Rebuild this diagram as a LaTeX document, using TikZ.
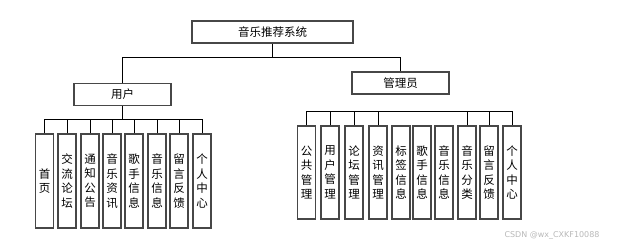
\documentclass[tikz,border=0pt]{standalone}
\usepackage{fontspec}
\newfontfamily\cjk{Noto Sans CJK SC}
\newfontfamily\wmfont{DejaVu Sans}
\begin{document}
\begin{tikzpicture}[x=1pt,y=-1pt,
  box/.style={draw=black!72,line width=1.1pt,fill=white,inner sep=0pt,
    font=\cjk\fontsize{11.5}{14.5}\selectfont,align=center},
  hbox/.style={box,minimum height=22pt},
  vbox/.style={box,minimum width=18pt},
  conn/.style={draw=black,line width=0.9pt}]
\useasboundingbox (0,0) rectangle (620,247);
% top level
\node[hbox,minimum width=161pt] (top) at (272.5,32) {音乐推荐系统};
\node[hbox,minimum width=97pt] (user) at (122.5,94.5) {用户};
\node[hbox,minimum width=97pt] (admin) at (400.5,83) {管理员};
% user children
\foreach \n/\x/\t in {u1/44.5/{首\\页},u2/67/{交\\流\\论\\坛},u3/90/{通\\知\\公\\告},
  u4/112/{音\\乐\\资\\讯},u5/134/{歌\\手\\信\\息},u6/157/{音\\乐\\信\\息},
  u7/179/{留\\言\\反\\馈},u8/202/{个\\人\\中\\心}}
  \node[vbox,minimum height=94pt] (\n) at (\x,181) {\t};
% admin children
\foreach \n/\x/\t in {a1/306.5/{公\\共\\管\\理},a2/330/{用\\户\\管\\理},a3/354/{论\\坛\\管\\理},
  a4/378/{资\\讯\\管\\理},a5/401/{标\\签\\信\\息},a6/422/{歌\\手\\信\\息},
  a7/444/{音\\乐\\信\\息},a8/467/{音\\乐\\分\\类},a9/489/{留\\言\\反\\馈},
  a10/512/{个\\人\\中\\心}}
  \node[vbox,minimum height=93pt] (\n) at (\x,172.5) {\t};
% connectors top
\coordinate (tb) at (top.south |- 0,57);
\draw[conn] (top.south) -- (tb);
\draw[conn] (tb) -| (user.north);
\draw[conn] (tb) -| (admin.north);
% user bus
\coordinate (ub) at (user.south |- 0,119);
\draw[conn] (user.south) -- (ub);
\draw[conn] (u1.north) |- (u8.north |- 0,119) -- (u8.north);
\foreach \n in {u2,u3,u4,u5,u6,u7}
  \draw[conn] (\n.north) -- (\n.north |- 0,119);
% admin bus
\draw[conn] (a1.north) |- (a10.north |- 0,111) -- (a10.north);
\foreach \n in {a2,a3,a4,a8,a9}
  \draw[conn] (\n.north) -- (\n.north |- 0,111);
% watermark
\node[text=black!28,font=\wmfont\fontsize{8}{9}\selectfont,inner sep=0pt] (wm) at (552,235.5) {CSDN @wx\_CXKF10088};
\end{tikzpicture}
\end{document}
